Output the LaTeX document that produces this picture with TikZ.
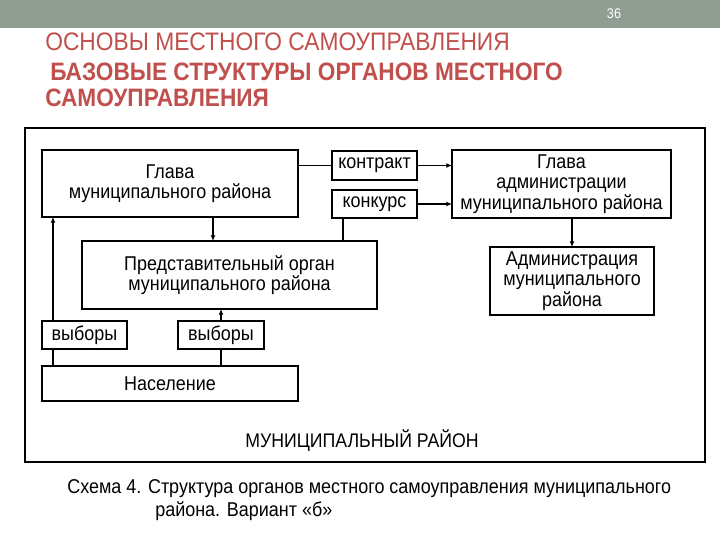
\documentclass[tikz,border=0pt]{standalone}
\usepackage{fontspec}
\setmainfont{Liberation Sans}[FakeStretch=0.9]
\usetikzlibrary{arrows.meta}
\definecolor{slidebar}{RGB}{143,157,147}
\definecolor{titlered}{RGB}{192,80,77}

\begin{document}
\begin{tikzpicture}[x=0.025cm,y=-0.025cm,>=Latex,
  box/.style={draw,line width=0.8pt,align=center,inner sep=0pt,outer sep=0pt,font=\fontsize{14.2}{14.6}\selectfont},
  link/.style={line width=0.8pt},
  arr/.style={-{Latex[length=4pt,width=3.5pt]},line width=1.2pt}]
  \useasboundingbox (0,0) rectangle (720,540);
  % Slide header
  \fill[slidebar] (0,0) rectangle (720,28);
  \node[white,font=\fontsize{10}{11}\selectfont] (pagenum) at (614,14) {36};
  \node[anchor=west,titlered,font=\fontsize{18}{20}\selectfont,inner sep=0pt] (title1) at (45,42) {ОСНОВЫ МЕСТНОГО САМОУПРАВЛЕНИЯ};
  \node[anchor=west,titlered,font=\bfseries\fontsize{17.9}{19}\selectfont,inner sep=0pt] (title2) at (50,72) {БАЗОВЫЕ СТРУКТУРЫ ОРГАНОВ МЕСТНОГО};
  \node[anchor=west,titlered,font=\bfseries\fontsize{17.9}{19}\selectfont,inner sep=0pt] (title3) at (45,98) {САМОУПРАВЛЕНИЯ};
  % Frame
  \draw[line width=0.8pt] (25,128) rectangle (705,462);
  \node[font=\fontsize{14}{15}\selectfont] (rayon) at (362,441) {МУНИЦИПАЛЬНЫЙ РАЙОН};
  % Boxes
  \node[box,minimum width=6.4cm,minimum height=1.675cm] (glava) at (170,183.5) {Глава\\муниципального района};
  \node[box,minimum width=2.125cm,minimum height=0.725cm] (kontrakt) at (374.5,165.5) {контракт};
  \node[box,minimum width=2.125cm,minimum height=0.7cm] (konkurs) at (374.5,204) {конкурс};
  \node[box,minimum width=5.475cm,minimum height=1.7cm] (glavaadm) at (561.5,184) {Глава\\администрации\\муниципального района};
  \node[box,minimum width=4.1cm,minimum height=1.7cm] (admin) at (572,281) {Администрация\\муниципального\\района};
  \node[box,minimum width=7.375cm,minimum height=1.7cm] (predst) at (229.5,275) {Представительный орган\\муниципального района};
  \node[box,minimum width=2.125cm,minimum height=0.7cm] (vyb1) at (84.5,335) {выборы};
  \node[box,minimum width=2.15cm,minimum height=0.7cm] (vyb2) at (221,335) {выборы};
  \node[box,minimum width=6.4cm,minimum height=0.875cm] (nasel) at (170,383.5) {Население};
  % Connectors
  \draw[link] (kontrakt.west -| glava.east) -- (kontrakt.west);
  \draw[arr] (kontrakt.east) -- (kontrakt.east -| glavaadm.west);
  \draw[arr] (konkurs.east) -- (konkurs.east -| glavaadm.west);
  \path (konkurs.south west) ++(11,0) coordinate (kb);
  \draw[link] (kb) -- (kb |- predst.north);
  \path (glava.south) ++(43,0) coordinate (gb);
  \draw[arr] (gb) -- (gb |- predst.north);
  \draw[arr] (admin.north |- glavaadm.south) -- (admin.north);
  \draw[arr] (vyb2.north) -- (vyb2.north |- predst.south);
  \path (vyb1.north west) ++(11,0) coordinate (vt);
  \draw[arr] (vt) -- (vt |- glava.south);
  \draw[link] (vt |- nasel.north) -- (vt |- vyb1.south);
  \draw[link] (vyb2.south |- nasel.north) -- (vyb2.south);
  % Caption
  \node[anchor=west,inner sep=0pt,font=\fontsize{14.2}{15}\selectfont] (cap1) at (67,489) {Схема 4. Структура органов местного самоуправления муниципального};
  \node[anchor=west,inner sep=0pt,font=\fontsize{14.2}{15}\selectfont] (cap2) at (155,511) {района. Вариант «б»};
\end{tikzpicture}
\end{document}
